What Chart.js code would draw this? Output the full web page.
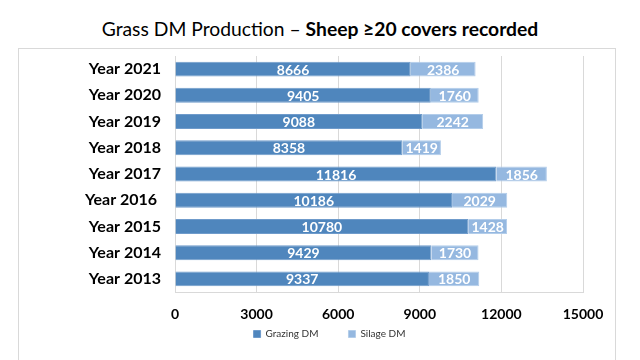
<!DOCTYPE html>
<html>
<head>
<meta charset="utf-8">
<script src="https://cdn.jsdelivr.net/npm/chart.js@4"></script>
<style>
  html, body { margin: 0; padding: 0; background: #fff; }
  #wrap { position: relative; width: 640px; height: 360px; overflow: hidden; }
  #title { position: absolute; left: 0; top: 17px; width: 640px; text-align: center;
           font-family: Lato, "Noto Sans", sans-serif; font-size: 19.3px; color: #000; white-space: nowrap; }
  #frame { position: absolute; left: 18px; top: 48px; width: 598px; height: 320px;
           border: 1px solid #d9d9d9; box-sizing: border-box; }
  canvas { position: absolute; left: 0; top: 0; }
</style>
</head>
<body>
<div id="wrap">
  <div id="frame"></div>
  <div id="title">Grass DM Production – <b>Sheep ≥20 covers recorded</b></div>
  <canvas id="c" width="640" height="360"></canvas>
</div>
<script>
const categories = ["Year 2021", "Year 2020", "Year 2019", "Year 2018", "Year 2017", "Year 2016 ", "Year 2015", "Year 2014", "Year 2013"];
const grazingDM = [8666, 9405, 9088, 8358, 11816, 10186, 10780, 9429, 9337];
const silageDM = [2386, 1760, 2242, 1419, 1856, 2029, 1428, 1730, 1850];
const xTicks = [0, 3000, 6000, 9000, 12000, 15000];

const FONT = 'Lato, "Noto Sans", sans-serif';

const valueLabels = {
  id: 'valueLabels',
  afterDatasetsDraw(chart) {
    const ctx = chart.ctx;
    ctx.save();
    ctx.fillStyle = '#ffffff';
    ctx.font = 'bold 14px ' + FONT;
    ctx.textAlign = 'center';
    ctx.textBaseline = 'middle';
    chart.data.datasets.forEach((ds, di) => {
      const meta = chart.getDatasetMeta(di);
      meta.data.forEach((bar, i) => {
        const p = bar.getProps(['x', 'y', 'base'], true);
        const cx = (p.x + p.base) / 2;
        ctx.fillText(String(ds.data[i]), cx, p.y + 1);
      });
    });
    ctx.restore();
  }
};

// move the legend up so it sits just below the x tick labels
const legendShift = {
  id: 'legendShift',
  afterLayout(chart) {
    const lg = chart.legend;
    if (!lg) return;
    const h = lg.bottom - lg.top;
    lg.top = chart.chartArea.bottom + 7;
    lg.bottom = lg.top + h;
  }
};

new Chart(document.getElementById('c'), {
  type: 'bar',
  data: {
    labels: categories,
    datasets: [
      { label: 'Grazing DM', data: grazingDM, backgroundColor: '#4f86bd', borderColor: '#6f9bcb', borderWidth: 1, barPercentage: 0.57, categoryPercentage: 1.0 },
      { label: 'Silage DM', data: silageDM, backgroundColor: '#95b8e0', borderColor: '#b3cdea', borderWidth: 1, barPercentage: 0.57, categoryPercentage: 1.0 }
    ]
  },
  options: {
    indexAxis: 'y',
    responsive: false,
    animation: false,
    layout: { padding: { left: 76, right: 57, top: 56, bottom: -14 } },
    scales: {
      x: {
        stacked: true,
        min: 0, max: 15000,
        afterBuildTicks(scale) { scale.ticks = xTicks.map(v => ({ value: v })); },
        grid: { color: '#d9d9d9', drawTicks: false, lineWidth: 1 },
        border: { display: true, color: '#d9d9d9' },
        ticks: { color: '#000', font: { family: FONT, size: 14, weight: 'bold' }, padding: 14, maxRotation: 0,
                 callback: (v) => String(v) },
        afterFit(scale) { scale.height = 32; }
      },
      y: {
        stacked: true,
        grid: { display: false, drawTicks: false },
        border: { display: false },
        ticks: { color: '#000', font: { family: FONT, size: 16, weight: 'bold' }, padding: 14 },
        afterFit(scale) { scale.width = 99; }
      }
    },
    plugins: {
      legend: {
        position: 'bottom',
        labels: { color: '#333', font: { family: FONT, size: 10 }, boxWidth: 7, boxHeight: 7, padding: 30 }
      },
      tooltip: { enabled: false },
      title: { display: false }
    }
  },
  plugins: [valueLabels, legendShift]
});
</script>
</body>
</html>
